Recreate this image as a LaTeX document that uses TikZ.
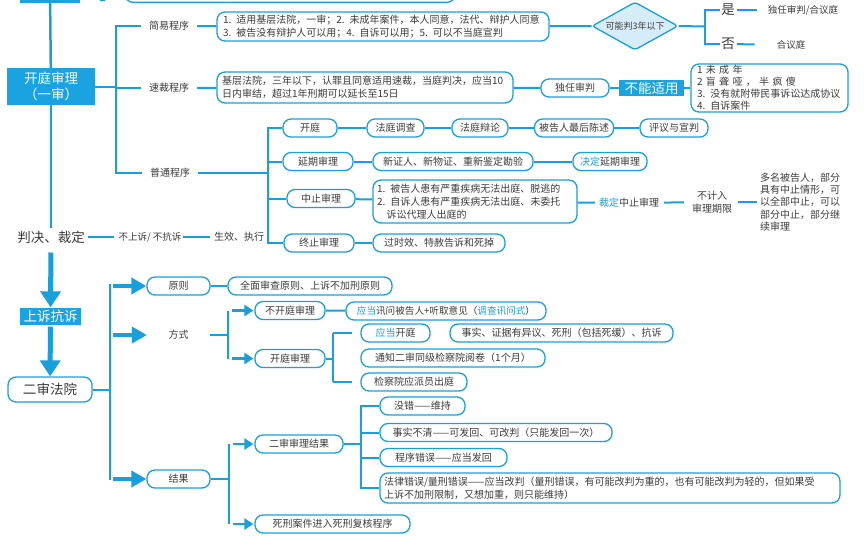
\documentclass[tikz,border=0pt]{standalone}
\usepackage{fontspec}
\setmainfont{Noto Sans CJK SC}
\usetikzlibrary{shapes.geometric,arrows.meta}
\definecolor{lblue}{RGB}{25,160,220}
\definecolor{bfill}{RGB}{26,163,224}
\definecolor{txt}{RGB}{60,60,60}
\definecolor{diafill}{RGB}{214,237,249}
\newcommand\fs{\fontsize{10}{13}\selectfont}
\newcommand\bigf{\fontsize{13.5}{16}\selectfont}
\newcommand\hl[1]{\textcolor{lblue}{#1}}
\tikzset{
  bx/.style={draw=lblue, line width=1.3pt, rounded corners=8pt, minimum height=18pt, inner xsep=3pt, inner ysep=1pt, font=\fs, text=txt, fill=white},
  mbx/.style={bx, align=left, rounded corners=8pt},
  fillbox/.style={fill=bfill, text=white, inner sep=1pt, font=\bigf, align=center},
  lbl/.style={font=\fs, text=txt, inner xsep=8pt, inner ysep=1pt},
  lbl0/.style={font=\fs, text=txt, inner sep=4pt},
  ln/.style={draw=lblue, line width=2pt},
  bar/.style={draw=lblue, line width=2.5pt},
  fatarr/.style={draw=lblue, line width=5pt, -{Triangle[length=16pt,width=20pt]}},
  midarr/.style={draw=lblue, line width=4.5pt, shorten <=3pt, -{Triangle[length=15pt,width=16pt]}},
  sarr/.style={draw=lblue, line width=2.5pt, shorten <=4pt, shorten >=1pt, -{Triangle[length=9pt,width=11pt]}}
}
\begin{document}
\begin{tikzpicture}[x=1pt,y=-1pt]
\useasboundingbox (0,0) rectangle (867,539);
\clip (0,0) rectangle (867,539);
\fill[white] (0,0) rectangle (867,539);

% remnants at the top
\node[fillbox, minimum width=60pt, minimum height=20pt, anchor=south] (top0) at (50,3) {};
\node[bx, minimum width=330pt, minimum height=26pt, anchor=south] (top1) at (290,3) {};
\coordinate (topd) at (100,0);
\draw[ln] (topd) -- ++(5,0);

% first instance
\node[fillbox, minimum width=88pt, minimum height=37pt] (kt) at (51,86.5) {开庭审理\\（一审）};
\node[font=\bigf, text=txt, inner sep=3pt] (pj) at (51,237) {判决、裁定};
\draw[bar] (top0) -- (kt);
\draw[bar] (kt) -- (pj);

\coordinate (b1) at (116,86.5);
\node[lbl] (jy) at (169,26) {简易程序};
\node[lbl] (sc) at (169,88) {速裁程序};
\node[lbl] (pt) at (170,173) {普通程序};
\draw[ln] (kt) -- (b1);
\draw[bar] (jy.west) -| (b1);
\draw[bar] (pt.west) -| (b1);
\draw[ln] (sc.west) -- (sc.west -| b1);

% simple procedure
\node[mbx, text width=320pt, inner xsep=6pt, minimum height=29pt] (jyb) at (383,26.5)
 {1. 适用基层法院，一审；2. 未成年案件，本人同意，法代、辩护人同意\\3. 被告没有辩护人可以用；4. 自诉可以用；5. 可以不当庭宣判};
\draw[ln] (jy) -- (jyb);
\node[draw=lblue, fill=diafill, line width=1.3pt, diamond, aspect=1.8, minimum width=86pt, minimum height=48pt, inner sep=0pt, rounded corners=3pt, text=txt, font=\fontsize{9}{11}\selectfont] (dia) at (635,26) {可能判3年以下};
\draw[ln] (jyb) -- (dia);
\coordinate (b2) at (705,26.5);
\node[font=\bigf, text=txt, inner sep=1pt] (shi) at (728,10) {是};
\node[font=\bigf, text=txt, inner sep=1pt] (fou) at (728,44) {否};
\draw[ln] (dia.east) -- (b2);
\draw[bar] (shi.west) -| (b2) |- (fou.west);
\node[font=\fontsize{9.5}{11}\selectfont, text=txt, inner sep=1pt] (dr) at (803,10) {独任审判/合议庭};
\node[font=\fontsize{9.5}{11}\selectfont, text=txt, inner sep=1pt] (hy) at (791,45) {合议庭};
\draw[ln, shorten <=1pt, shorten >=10pt] (shi) -- (dr);
\draw[ln, shorten <=1pt, shorten >=21pt] (fou) -- (hy);

% summary procedure
\node[mbx, text width=286pt, inner xsep=5pt, minimum height=31pt] (scb) at (365,87.5)
 {基层法院，三年以下，认罪且同意适用速裁，当庭判决，应当10\\日内审结，超过1年刑期可以延长至15日};
\draw[ln] (sc) -- (scb);
\node[bx, minimum width=68pt] (drj) at (575,88) {独任审判};
\draw[ln] (scb) -- (drj);
\node[fillbox, minimum width=65pt, minimum height=16pt] (bn) at (651.5,88) {不能适用};
\draw[ln] (drj) -- (bn);
\node[mbx, text width=145pt, inner xsep=6pt, minimum height=48pt, font=\fontsize{10}{11.9}\selectfont] (lst) at (769.5,88)
 {1\ 未\ 成\ 年\\2\ 盲\ 聋\ 哑\ ，\ 半\ 疯\ 傻\\3. 没有就附带民事诉讼达成协议\\4. 自诉案件};
\draw[ln] (bn) -- (lst);

% ordinary procedure
\coordinate (b3) at (268,173);
\draw[ln] (pt) -- (b3);
\node[bx, minimum width=54pt] (kt1) at (310,128) {开庭};
\node[bx, minimum width=57pt] (fdc) at (395.5,128) {法庭调查};
\node[bx, minimum width=56pt] (fbl) at (480,128) {法庭辩论};
\node[bx, minimum width=79pt] (bgr) at (574,128) {被告人最后陈述};
\node[bx, minimum width=68pt] (pyx) at (674,128) {评议与宣判};
\draw[ln] (kt1) -- (fdc);
\draw[ln] (fdc) -- (fbl);
\draw[ln] (fbl) -- (bgr);
\draw[ln] (bgr) -- (pyx);

\node[bx, minimum width=70pt] (yq) at (318,161.5) {延期审理};
\node[bx, minimum width=160pt] (yqb) at (453,161.5) {新证人、新物证、重新鉴定勘验};
\node[bx, minimum width=74pt] (jd) at (610,161.5) {\hl{决定}延期审理};
\draw[ln] (yq) -- (yqb);
\draw[ln] (yqb) -- (jd);

\node[bx, minimum width=68pt] (zz) at (321,198.5) {中止审理};
\node[mbx, text width=196pt, inner xsep=4pt, minimum height=43pt] (zzb) at (475,201.5)
 {1. 被告人患有严重疾病无法出庭、脱逃的\\2. 自诉人患有严重疾病无法出庭、未委托\\\hspace*{0.95em}诉讼代理人出庭的};
\draw[ln] (zz) -- (zzb);
\node[lbl0] (cd) at (629,203) {\hl{裁定}中止审理};
\draw[ln] (zzb) -- (cd);
\node[lbl0, align=center, font=\fontsize{10}{13}\selectfont] (bj) at (712,202) {不计入\\审理期限};
\draw[ln, shorten <=1pt, shorten >=4pt] (cd) -- (bj);
\node[lbl0, align=left, text width=84pt, inner sep=2pt, font=\fontsize{10}{12.2}\selectfont] (dm) at (802,202)
 {多名被告人，部分\\具有中止情形，可\\以全部中止，可以\\部分中止，部分继\\续审理};
\draw[ln, shorten <=2pt, shorten >=1pt] (bj) -- (dm);

\node[bx, minimum width=70pt] (zhz) at (319,243) {终止审理};
\node[bx, minimum width=132pt] (zhzb) at (439,243) {过时效、特赦告诉和死掉};
\draw[ln] (zhz) -- (zhzb);

\draw[bar] (kt1.west) -| (b3);
\draw[bar] (zhz.west) -| (b3);
\draw[ln] (yq.west) -- (yq.west -| b3);
\draw[ln] (zz.west) -- (zz.west -| b3);

% verdict
\node[lbl0, font=\fontsize{9.5}{11}\selectfont] (bss) at (150,237) {不上诉/ 不抗诉};
\node[lbl0] (sx) at (239,237) {生效、执行};
\draw[ln] (pj) -- (bss);
\draw[ln, shorten <=-3pt] (bss) -- (sx);

% appeal
\node[fillbox, minimum width=61pt, minimum height=17pt] (ss) at (50.5,316) {上诉抗诉};
\node[bx, minimum width=84pt, minimum height=25pt, font=\bigf] (es) at (50,389.5) {二审法院};
\draw[fatarr, shorten <=6pt] (pj) -- (ss);
\draw[fatarr, shorten <=2pt] (ss) -- (es);

% second instance
\coordinate (b4) at (110,389.5);
\coordinate (b4t) at (110,284);
\coordinate (b4b) at (110,480);
\draw[bar] (b4t) -- (b4b);
\draw[ln] (es) -- (b4);

\node[bx, minimum width=63pt] (yz) at (178.5,286) {原则};
\node[bx, minimum width=164pt] (yzb) at (310,286) {全面审查原则、上诉不加刑原则};
\draw[ln] (yz) -- (yzb);
\node[lbl0, minimum width=63pt] (fs) at (178.5,335) {方式};
\node[bx, minimum width=63pt] (jg) at (178.5,479) {结果};
\draw[midarr] (yz.west -| b4) -- (yz.west);
\draw[midarr] (fs.west -| b4) -- (fs.west);
\draw[midarr] (jg.west -| b4) -- (jg.west);

% mode
\coordinate (b5) at (228,335);
\draw[ln] (fs) -- (b5);
\node[bx, minimum width=70pt] (bkt) at (290,310.5) {不开庭审理};
\node[bx, minimum width=70pt] (kts) at (290,358.5) {开庭审理};
\draw[bar] (bkt.west -| b5) -- (kts.west -| b5);
\draw[sarr] (bkt.west -| b5) -- (bkt.west);
\draw[sarr] (kts.west -| b5) -- (kts.west);
\node[bx, minimum width=200pt, font=\fontsize{9.6}{12}\selectfont] (bktb) at (446,311) {\hl{应当}讯问被告人+听取意见（\hl{调查讯问式}）};
\draw[ln] (bkt) -- (bktb);

\coordinate (b6) at (333,358.5);
\draw[ln] (kts) -- (b6);
\node[bx, minimum width=69pt] (ydkt) at (395.5,333) {\hl{应当}开庭};
\node[bx, minimum width=223pt] (sszj) at (561.5,333) {事实、证据有异议、死刑（包括死缓）、抗诉};
\node[bx, minimum width=184pt] (tz) at (453,358) {通知二审同级检察院阅卷（1个月）};
\node[bx, minimum width=106pt] (jcy) at (414,382) {检察院应派员出庭};
\draw[bar] (ydkt.west -| b6) -- (jcy.west -| b6);
\draw[ln, shorten >=8pt] (ydkt.west -| b6) -- (ydkt.west);
\draw[ln, shorten >=8pt] (jcy.west -| b6) -- (jcy.west);

% result
\coordinate (b7) at (229,479);
\draw[ln] (jg) -- (b7);
\node[bx, minimum width=88pt] (esj) at (299,444) {二审审理结果};
\node[bx, minimum width=155pt] (sx2) at (332.5,524) {死刑案件进入死刑复核程序};
\draw[bar] (esj.west -| b7) -- (sx2.west -| b7);
\draw[sarr] (esj.west -| b7) -- (esj.west);
\draw[sarr] (sx2.west -| b7) -- (sx2.west);

\coordinate (b8) at (361,444);
\draw[ln] (esj) -- (b8);
\node[bx, minimum width=85pt] (mc) at (422.5,406) {没错——维持};
\node[bx, minimum width=232pt] (sbq) at (496,432.5) {事实不清——可发回、可改判（只能发回一次）};
\node[bx, minimum width=127pt] (cxc) at (443.5,457.5) {程序错误——应当发回};
\node[mbx, text width=452pt, inner xsep=4pt, minimum height=30pt] (flc) at (610,488)
 {法律错误/量刑错误——应当改判（量刑错误，有可能改判为重的，也有可能改判为轻的，但如果受\\上诉不加刑限制，又想加重，则只能维持）};
\draw[bar] (mc.west) -| (b8);
\draw[bar] (flc.west) -| (b8);
\draw[ln] (sbq.west) -- (sbq.west -| b8);
\draw[ln] (cxc.west) -- (cxc.west -| b8);
\end{tikzpicture}
\end{document}
